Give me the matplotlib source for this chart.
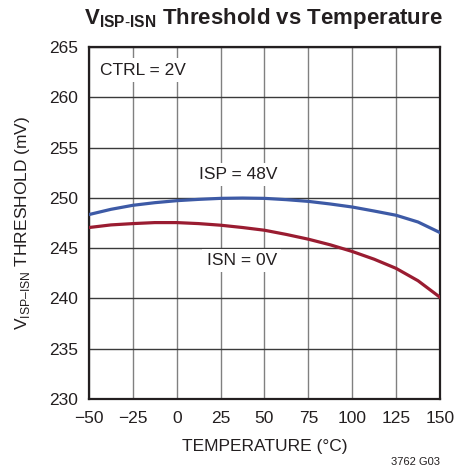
import matplotlib
matplotlib.use("Agg")
import matplotlib.pyplot as plt

temp = [-50, -37.5, -25, -12.5, 0, 12.5, 25, 37.5, 50, 62.5, 75, 87.5, 100, 112.5, 125, 137.5, 150]
isp_48v = [248.34, 248.86, 249.26, 249.52, 249.72, 249.85, 249.95, 249.98, 249.95, 249.82,
           249.65, 249.39, 249.09, 248.69, 248.27, 247.6, 246.55]
isn_0v = [247.05, 247.31, 247.44, 247.54, 247.54, 247.44, 247.28, 247.05, 246.78, 246.36,
          245.89, 245.33, 244.67, 243.9, 242.99, 241.76, 240.12]

xticks = [-50, -25, 0, 25, 50, 75, 100, 125, 150]
xticklabels = ["\u221250", "\u221225", "0", "25", "50", "75", "100", "125", "150"]
yticks = [230, 235, 240, 245, 250, 255, 260, 265]

plt.rcParams['font.family'] = ['Liberation Sans', 'DejaVu Sans']
plt.rcParams['mathtext.fontset'] = 'custom'
plt.rcParams['mathtext.rm'] = 'Liberation Sans'
plt.rcParams['mathtext.bf'] = 'Liberation Sans:bold'

fig = plt.figure(figsize=(4.71, 4.72), dpi=100)
ax = fig.add_axes([0.189, 0.1547, 0.745, 0.7457])

ax.plot(temp, isp_48v, color="#3d5aa6", lw=2.3, zorder=3)
ax.plot(temp, isn_0v, color="#9a1c31", lw=2.3, zorder=3)

ax.set_xlim(-50, 150)
ax.set_ylim(230, 265)
ax.set_xticks(xticks)
ax.set_xticklabels(xticklabels)
ax.set_yticks(yticks)
ax.tick_params(length=0, labelsize=12.5, colors="#231f20")
ax.tick_params(axis="x", pad=9)
ax.tick_params(axis="y", pad=8)
ax.xaxis.grid(True, color="#808080", lw=1.0)
ax.yaxis.grid(True, color="#3a3a3a", lw=1.0)
for s in ax.spines.values():
    s.set_linewidth(1.6)
    s.set_color("#231f20")

ax.set_xlabel("TEMPERATURE (\u00b0C)", fontsize=12.5, color="#231f20", labelpad=9)
ax.set_ylabel("V$_{\\mathrm{ISP\u2013ISN}}$ THRESHOLD (mV)", fontsize=12.5, color="#231f20", labelpad=12)

box = dict(facecolor="white", edgecolor="none", pad=3)
ax.text(35, 252.3, "ISP = 48V", ha="center", va="center", fontsize=12.5, color="#231f20", bbox=box, zorder=2)
ax.text(37, 243.8, "ISN = 0V", ha="center", va="center", fontsize=12.5, color="#231f20", bbox=box, zorder=2)
ax.text(-44, 262.7, "CTRL = 2V", ha="left", va="center", fontsize=12.5, color="#231f20", bbox=box, zorder=2)

fig.text(0.56, 0.96, "$\\mathbf{V_{ISP\\text{-}ISN}}$ Threshold vs Temperature", ha="center", va="center",
         fontsize=16, fontweight="bold", color="#231f20")
fig.text(0.934, 0.022, "3762 G03", ha="right", va="center", fontsize=8, color="#231f20")

fig.savefig("out.png", dpi=100)
